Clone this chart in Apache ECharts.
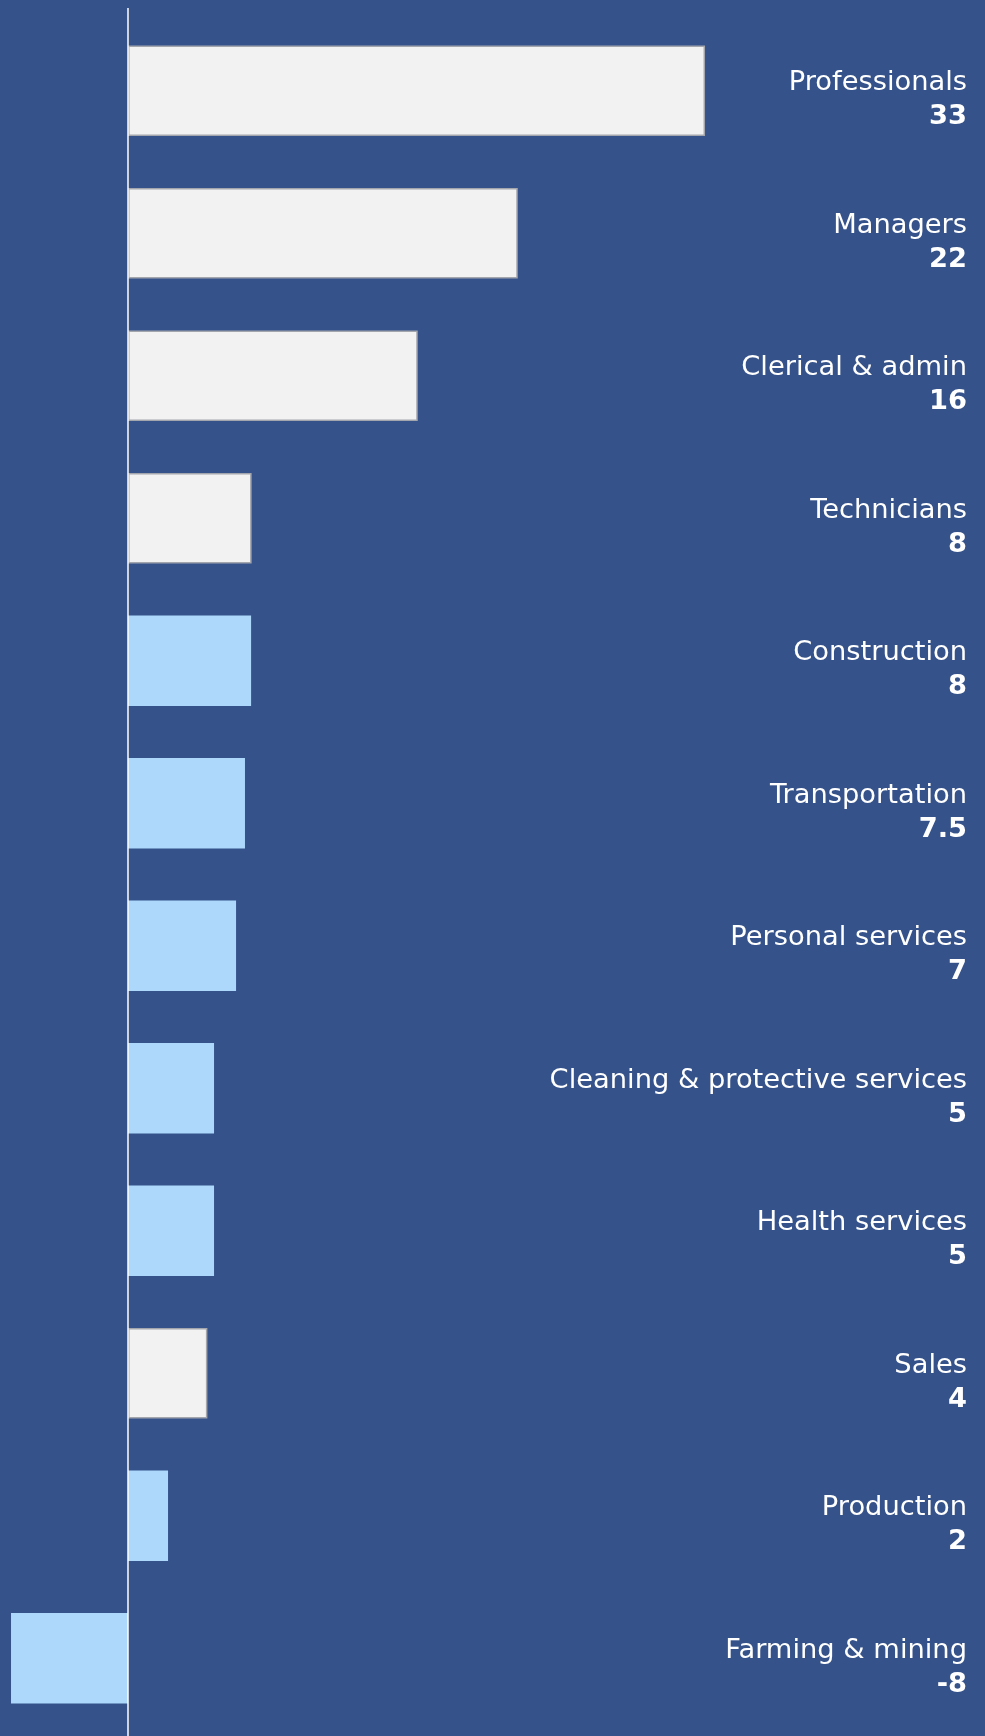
<!DOCTYPE html>
<html>
<head>
<meta charset="utf-8">
<style>
html,body{margin:0;padding:0;background:#35528a;}
#chart{width:985px;height:1736px;}
</style>
<script src="https://cdn.jsdelivr.net/npm/echarts@6/dist/echarts.min.js"></script>
</head>
<body>
<div id="chart"></div>
<script>
// Occupation categories (top to bottom)
const categories = ['Professionals','Managers','Clerical & admin','Technicians','Construction','Transportation','Personal services','Cleaning & protective services','Health services','Sales','Production','Farming & mining'];
// Bar lengths as drawn in the picture
const barValues = [33, 22.29, 16.57, 7.07, 7.04, 6.69, 6.18, 4.92, 4.92, 4.54, 2.29, -6.69];
// Values printed in the labels
const labelValues = [33, 22, 16, 8, 8, 7.5, 7, 5, 5, 4, 2, -8];
// Colour group of each bar
const groups = ['white','white','white','white','blue','blue','blue','blue','blue','white','blue','blue'];

const groupStyle = {
  white: {color:'#f2f2f2', borderColor:'#a3a6ad', borderWidth:1.5},
  blue:  {color:'#add8fb', borderWidth:0}
};

const chart = echarts.init(document.getElementById('chart'), null, {renderer:'canvas'});
const FONT = '"DejaVu Sans", "Open Sans", sans-serif';

chart.setOption({
  backgroundColor:'#35528a',
  animation:false,
  grid:{left:0, right:0, top:19.6, bottom:6.4},
  xAxis:{type:'value', min:-7.32, max:49.01, show:false, splitLine:{show:false}},
  yAxis:[{
    type:'category', data:categories, inverse:true,
    axisLine:{show:false}, axisTick:{show:false}, axisLabel:{show:false}
  },{
    type:'category', data:categories, inverse:true, position:'right',
    axisLine:{show:false}, axisTick:{show:false},
    axisLabel:{
      inside:true, margin:18, padding:[19,0,0,0],
      formatter:(v,i)=>'{n|'+v+'}\n{v|'+labelValues[i]+'}',
      rich:{
        n:{fontFamily:FONT, fontSize:27.3, fontWeight:400, color:'#ffffff', lineHeight:34, align:'right'},
        v:{fontFamily:FONT, fontSize:27.3, fontWeight:700, color:'#ffffff', lineHeight:34, align:'right'}
      }
    }
  }],
  series:[{
    type:'bar', yAxisIndex:0, barWidth:90.5,
    data:barValues.map((v,i)=>({value:v, itemStyle:groupStyle[groups[i]]}))
  }]
});

const x0 = chart.convertToPixel({xAxisIndex:0}, 0);
chart.setOption({
  graphic:[{
    type:'line', z:100,
    shape:{x1:x0, y1:8, x2:x0, y2:1736},
    style:{stroke:'#ffffff', lineWidth:1.5}
  }]
});
</script>
</body>
</html>
